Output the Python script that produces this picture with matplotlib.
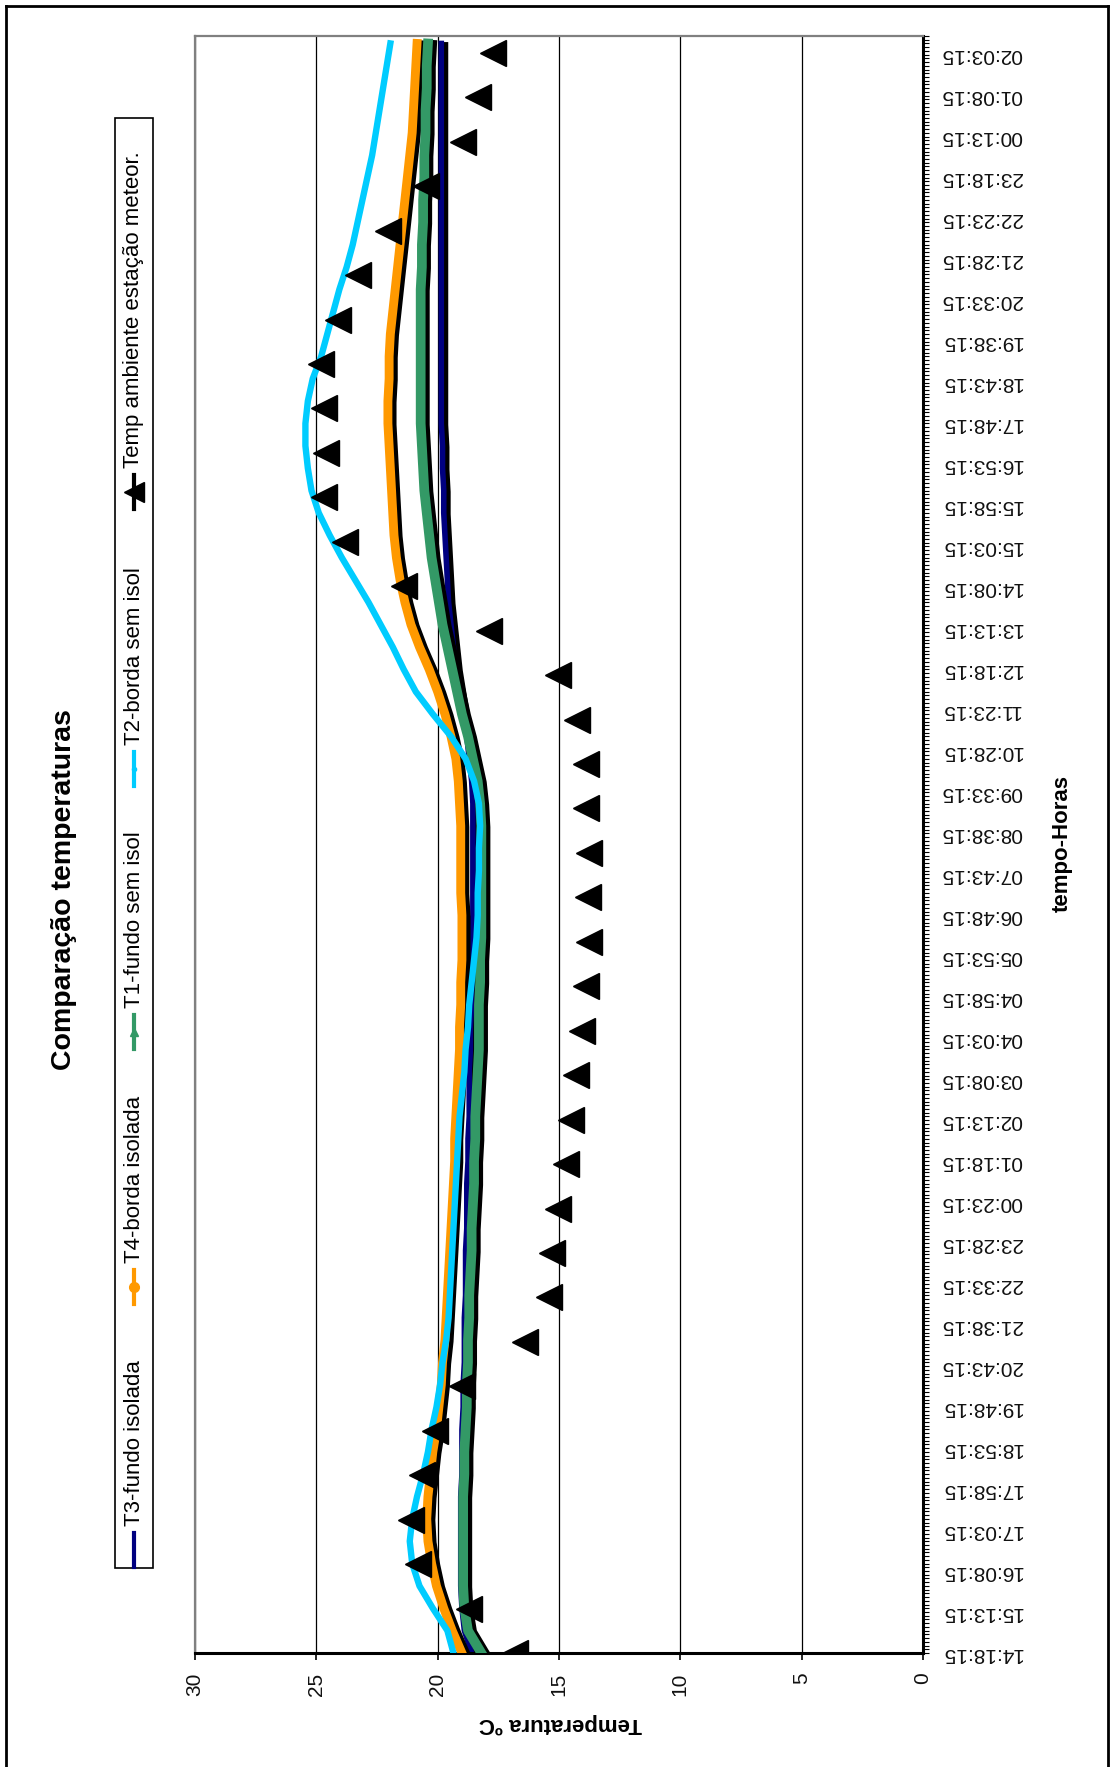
import numpy as np
import matplotlib.pyplot as plt
import matplotlib.patheffects as path_effects
from matplotlib.lines import Line2D
from matplotlib.patches import Rectangle

plt.rcParams['font.family'] = ['Liberation Sans', 'DejaVu Sans']

W, H = 1114, 1767
DPI = 100

# readings every 5 min; the time axis is labelled every 11 samples
N_LAST = 434
TIME_LABELS = [
    "14:18:15", "15:13:15", "16:08:15", "17:03:15", "17:58:15", "18:53:15",
    "19:48:15", "20:43:15", "21:38:15", "22:33:15", "23:28:15", "00:23:15",
    "01:18:15", "02:13:15", "03:08:15", "04:03:15", "04:58:15", "05:53:15",
    "06:48:15", "07:43:15", "08:38:15", "09:33:15", "10:28:15", "11:23:15",
    "12:18:15", "13:13:15", "14:08:15", "15:03:15", "15:58:15", "16:53:15",
    "17:48:15", "18:43:15", "19:38:15", "20:33:15", "21:28:15", "22:23:15",
    "23:18:15", "00:13:15", "01:08:15", "02:03:15",
]
LABEL_STEP = 11

# sensor values every half hour (sample index); the weather station
# reports roughly once an hour (about 11.9 samples apart)
SENSOR_IDX = list(range(0, 433, 6))
STATION_STEP = 11.93

t3_fundo_isolada = [
    18.6, 18.9, 19.0, 19.05, 19.05, 19.05, 19.05, 19.05, 19.0, 19.0,
    19.0, 18.95, 18.95, 18.9, 18.9, 18.9, 18.85, 18.85, 18.85, 18.8,
    18.8, 18.8, 18.75, 18.75, 18.7, 18.7, 18.7, 18.65, 18.65, 18.6,
    18.6, 18.6, 18.6, 18.55, 18.55, 18.55, 18.55, 18.55, 18.55, 18.6,
    18.7, 18.8, 18.95, 19.1, 19.25, 19.35, 19.45, 19.55, 19.6, 19.65,
    19.7, 19.75, 19.75, 19.8, 19.8, 19.85, 19.85, 19.85, 19.85, 19.85,
    19.85, 19.85, 19.85, 19.85, 19.85, 19.85, 19.85, 19.85, 19.85, 19.85,
    19.85, 19.85, 19.85,
]
t4_borda_isolada = [
    19.0, 19.4, 19.75, 20.05, 20.25, 20.4, 20.45, 20.4, 20.3, 20.2,
    20.05, 19.95, 19.85, 19.8, 19.7, 19.65, 19.6, 19.55, 19.5, 19.45,
    19.4, 19.35, 19.3, 19.3, 19.25, 19.2, 19.15, 19.1, 19.1, 19.05,
    19.05, 19.0, 19.0, 19.0, 19.05, 19.05, 19.05, 19.05, 19.1, 19.15,
    19.25, 19.45, 19.7, 20.0, 20.35, 20.75, 21.1, 21.35, 21.55, 21.7,
    21.8, 21.85, 21.9, 21.95, 22.0, 22.05, 22.05, 22.0, 22.0, 21.95,
    21.85, 21.75, 21.65, 21.55, 21.45, 21.35, 21.25, 21.15, 21.05, 21.0,
    20.95, 20.9, 20.85,
]
t1_fundo_sem_isol = [
    18.2, 18.75, 18.9, 18.95, 18.95, 18.95, 18.95, 18.95, 18.9, 18.9,
    18.85, 18.8, 18.8, 18.75, 18.75, 18.7, 18.7, 18.65, 18.6, 18.6,
    18.55, 18.5, 18.5, 18.45, 18.45, 18.4, 18.35, 18.3, 18.3, 18.3,
    18.25, 18.25, 18.2, 18.2, 18.2, 18.2, 18.2, 18.2, 18.25, 18.35,
    18.55, 18.75, 19.0, 19.2, 19.4, 19.6, 19.8, 19.95, 20.1, 20.25,
    20.35, 20.45, 20.55, 20.6, 20.65, 20.7, 20.7, 20.7, 20.7, 20.7,
    20.7, 20.7, 20.65, 20.65, 20.6, 20.6, 20.55, 20.55, 20.5, 20.5,
    20.45, 20.45, 20.4,
]
t2_borda_sem_isol = [
    19.35, 19.6, 20.2, 20.75, 21.05, 21.15, 21.05, 20.85, 20.6, 20.4,
    20.25, 20.05, 19.9, 19.8, 19.65, 19.55, 19.5, 19.45, 19.4, 19.35,
    19.3, 19.25, 19.2, 19.15, 19.1, 19.0, 18.9, 18.85, 18.75, 18.7,
    18.6, 18.5, 18.4, 18.35, 18.35, 18.3, 18.3, 18.25, 18.3, 18.5,
    18.85, 19.45, 20.2, 20.9, 21.4, 21.85, 22.35, 22.85, 23.4, 23.95,
    24.45, 24.9, 25.2, 25.35, 25.45, 25.45, 25.35, 25.15, 24.8, 24.55,
    24.3, 24.05, 23.75, 23.5, 23.3, 23.1, 22.9, 22.7, 22.55, 22.4,
    22.25, 22.1, 21.95,
]
temp_ambiente = [
    16.8, 18.7, 20.8, 21.1, 20.65, 20.1, 19.0, 16.4, 15.4, 15.3,
    15.05, 14.7, 14.5, 14.3, 14.05, 13.9, 13.75, 13.8, 13.75, 13.9,
    13.9, 14.25, 15.05, 17.9, 21.4, 23.8, 24.7, 24.6, 24.7, 24.8,
    24.1, 23.3, 22.05, 20.5, 18.95, 18.35, 17.7,
]

SERIES = [
    ("T3-fundo isolada", t3_fundo_isolada, "#000080", 4.0, "|", True),
    ("T4-borda isolada", t4_borda_isolada, "#FF9900", 6.4, "o", True),
    ("T1-fundo sem isol", t1_fundo_sem_isol, "#339966", 7.0, "^", True),
    ("T2-borda sem isol", t2_borda_sem_isol, "#00CCFF", 4.6, ".", False),
]
STATION_NAME = "Temp ambiente estação meteor."


def fx(px):
    return px / W


def fy(py):
    return 1 - py / H


def main():
    fig = plt.figure(figsize=(W / DPI, H / DPI), dpi=DPI, facecolor="white")

    # the chart is laid out on its side: temperature runs right to left,
    # time runs bottom to top
    ax = fig.add_axes([fx(195), fy(1653), fx(923) - fx(195), (1653 - 36) / H])
    ax.set_xlim(30, 0)
    ax.set_ylim(0, N_LAST)

    ax.set_xticks(range(0, 31, 5))
    ax.grid(axis="x", color="black", linewidth=0.9, zorder=0)
    ax.set_axisbelow(True)

    shadow = [
        path_effects.SimpleLineShadow(offset=(3, -1), shadow_color="black", alpha=1.0),
        path_effects.Normal(),
    ]
    for z, (name, values, color, lw, marker, has_shadow) in enumerate(SERIES):
        line, = ax.plot(values, SENSOR_IDX, color=color, linewidth=lw,
                        solid_joinstyle="round", zorder=2 + z)
        if has_shadow:
            line.set_path_effects(shadow)

    station_idx = np.arange(len(temp_ambiente)) * STATION_STEP
    ax.plot(temp_ambiente, station_idx, linestyle="none", marker="<",
            markersize=19, color="black", zorder=10)

    # time axis on the right, one tick per sample
    ax.yaxis.tick_right()
    major = np.arange(0, LABEL_STEP * len(TIME_LABELS), LABEL_STEP)
    ax.set_yticks(major)
    ax.set_yticklabels(TIME_LABELS)
    ax.set_yticks(np.arange(0, N_LAST + 1), minor=True)
    ax.tick_params(axis="y", which="both", direction="out", length=4,
                   width=0.8, color="black", labelsize=15, pad=9,
                   labelrotation=180, labelcolor="#111111")
    for t in ax.get_yticklabels():
        t.set_verticalalignment("center")

    ax.tick_params(axis="x", direction="out", length=5, width=1.2,
                   labelsize=15, pad=9, labelrotation=90, labelcolor="#111111")

    for side in ("left", "top"):
        ax.spines[side].set_color("#808080")
        ax.spines[side].set_linewidth(1.6)
    ax.spines["bottom"].set_color("black")
    ax.spines["bottom"].set_linewidth(2.2)
    ax.spines["right"].set_color("black")
    ax.spines["right"].set_linewidth(2.2)

    fig.text(fx(64), fy(890), "Comparação temperaturas", rotation=90,
             fontsize=20.5, fontweight="bold", ha="center", va="center")
    fig.text(fx(560), fy(1723), "Temperatura ºC", rotation=180,
             fontsize=16, fontweight="bold", ha="center", va="center")
    fig.text(fx(1062), fy(843), "tempo-Horas", rotation=90,
             fontsize=16, fontweight="bold", ha="center", va="center")

    # legend box, entries stacked bottom to top
    fig.add_artist(Rectangle((fx(115), fy(1568)), fx(153) - fx(115),
                             (1568 - 118) / H, transform=fig.transFigure,
                             facecolor="white", edgecolor="black", linewidth=1.2))
    legend_x = 134
    entries = [(s[0], s[2], s[3], s[4]) for s in SERIES]
    entries.append((STATION_NAME, "black", 3.0, "<"))
    handle_centres = [1550, 1287, 1032, 769, 492]
    for (name, color, lw, marker), yc in zip(entries, handle_centres):
        msize = {"|": 8, "o": 7, "^": 6, ".": 6, "<": 14}[marker]
        fig.add_artist(Line2D([fx(legend_x), fx(legend_x)], [fy(yc + 17), fy(yc - 17)],
                              transform=fig.transFigure, color=color,
                              linewidth=min(lw, 3.0)))
        fig.add_artist(Line2D([fx(legend_x)], [fy(yc)], transform=fig.transFigure,
                              color=color, marker=marker, markersize=msize,
                              linestyle="none"))
        fig.text(fx(legend_x), fy(yc - 24), name, rotation=90,
                 rotation_mode="anchor", ha="left", va="center", fontsize=16)

    # page frame
    for xs, ys in [((6, 6), (6, H)), ((6, 1108), (6, 6)), ((1108, 1108), (6, H))]:
        fig.add_artist(Line2D([fx(x) for x in xs], [fy(y) for y in ys],
                              transform=fig.transFigure, color="black", linewidth=2))

    fig.savefig("out.png", dpi=DPI, facecolor="white")


if __name__ == "__main__":
    main()
